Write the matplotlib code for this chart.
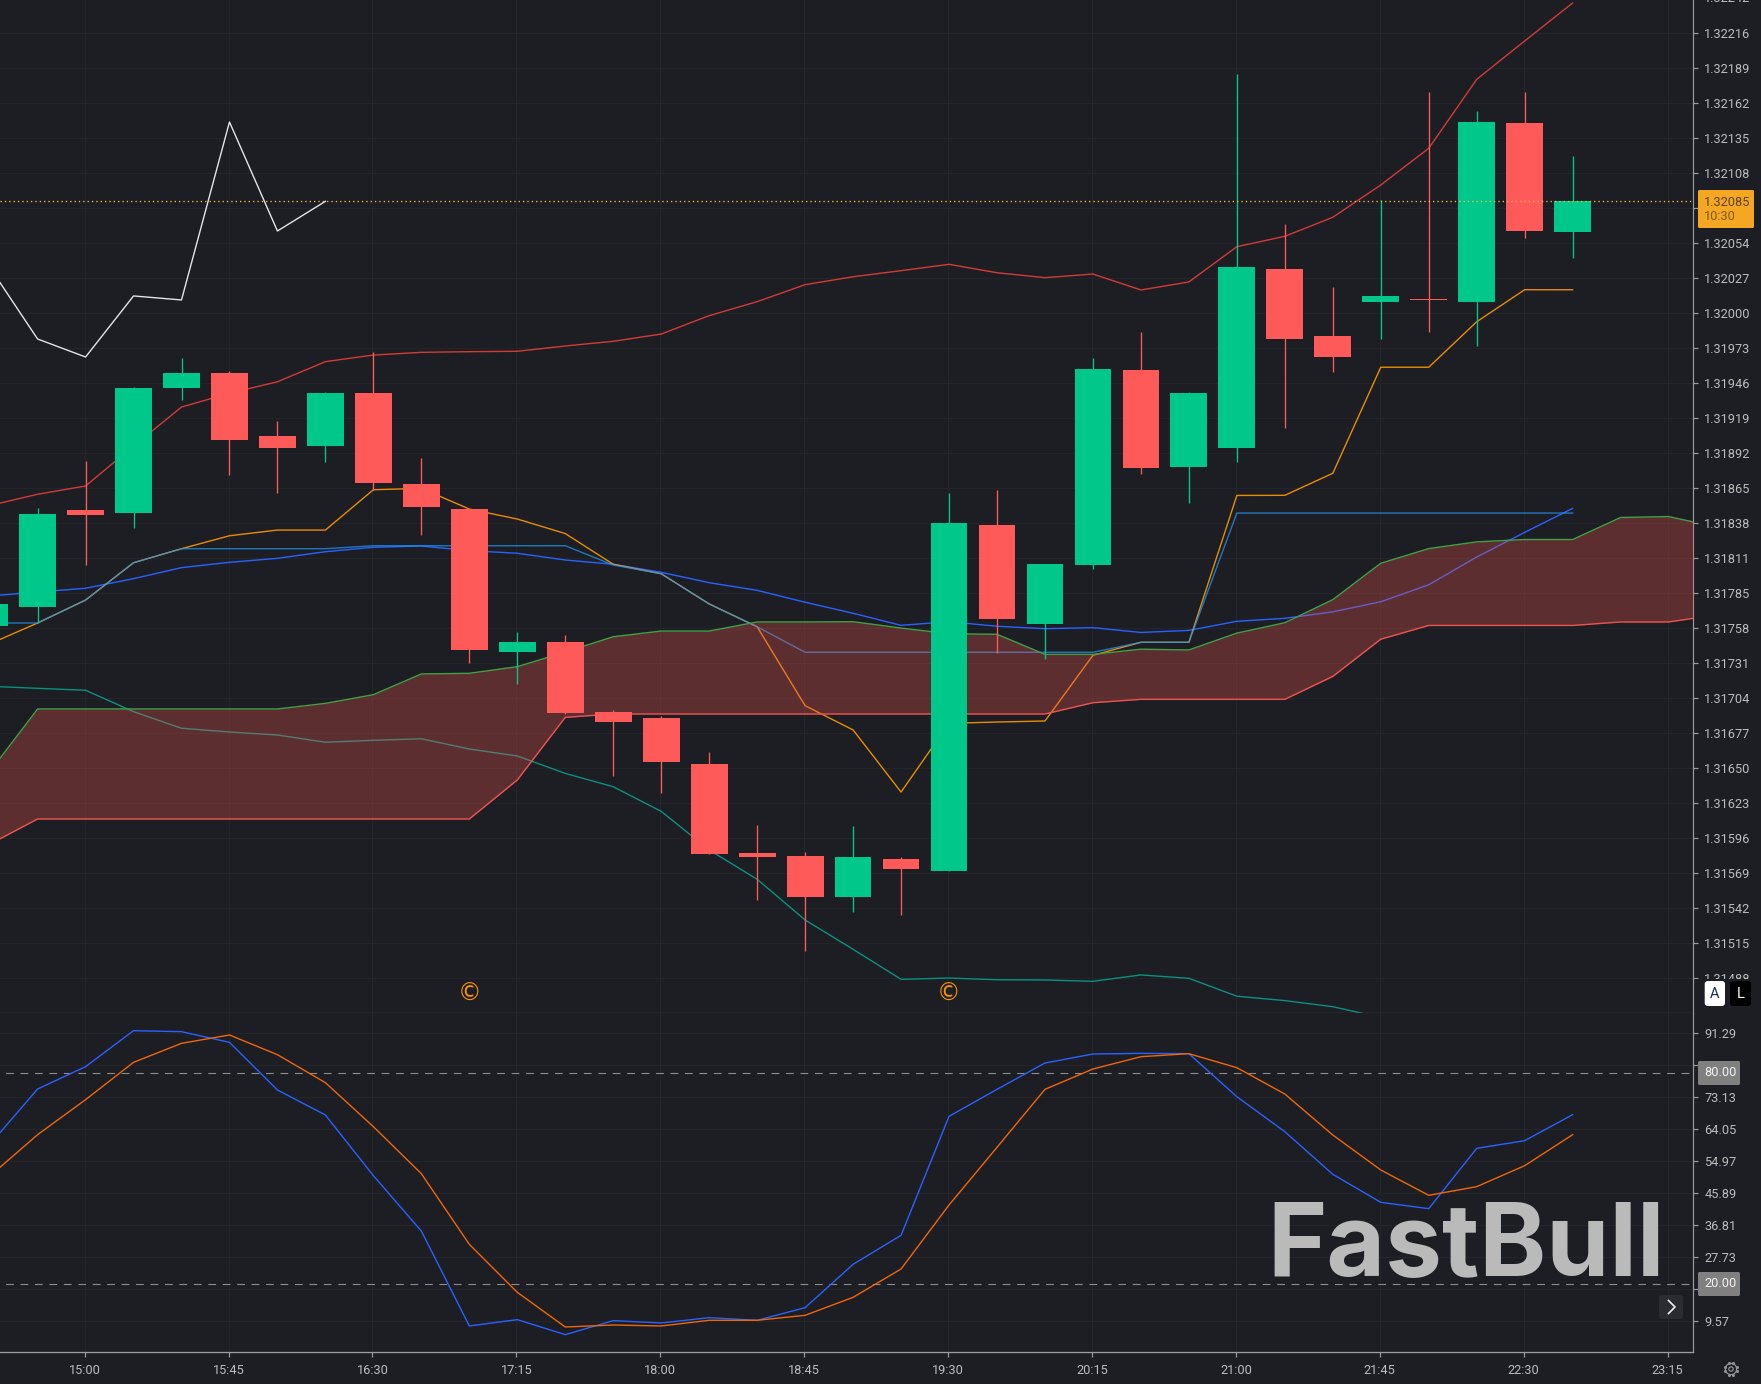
import matplotlib

matplotlib.use("Agg")

import matplotlib.pyplot as plt
import numpy as np
from matplotlib.patches import Circle, FancyBboxPatch, Rectangle

plt.rcParams["font.family"] = ["Roboto", "DejaVu Sans"]

BG = "#1c1e23"
GRID = "#232529"
AXIS = "#9c9c9c"
TEXT = "#bcbcbc"
UP = "#00c78a"
DOWN = "#ff5a5a"
WIDTH, HEIGHT = 1761, 1384

# bars are numbered from the 15:00 candle, two earlier ones sit to its left
FIRST_BAR = -2
opens = [1.317574, 1.317720, 1.318469, 1.318446, 1.319410, 1.319526, 1.319040, 1.318962, 1.319371, 1.318669, 1.318476,
         1.317373, 1.317450, 1.316910, 1.316864, 1.316509, 1.315823, 1.315800, 1.315483, 1.315776, 1.315684, 1.318353,
         1.317589, 1.318044, 1.319549, 1.318800, 1.318947, 1.320328, 1.319811, 1.320073, 1.320096, 1.320073, 1.321454,
         1.320613]
closes = [1.317744, 1.318438, 1.318430, 1.319410, 1.319526, 1.319009, 1.318947, 1.319371, 1.318677, 1.318492, 1.317389,
          1.317450, 1.316903, 1.316833, 1.316525, 1.315815, 1.315792, 1.315483, 1.315792, 1.315699, 1.318368, 1.317628,
          1.318052, 1.319556, 1.318793, 1.319371, 1.320343, 1.319788, 1.319649, 1.320120, 1.320089, 1.321462, 1.320621,
          1.32085]
highs = [1.317744, 1.318482, 1.318844, 1.319415, 1.319639, 1.319539, 1.319153, 1.319379, 1.319685, 1.318868, 1.318476,
         1.317525, 1.317502, 1.316926, 1.316880, 1.316600, 1.316036, 1.315828, 1.316029, 1.315789, 1.318598, 1.318621,
         1.318052, 1.319639, 1.319840, 1.319379, 1.321830, 1.320673, 1.320187, 1.320858, 1.321691, 1.321544, 1.321691,
         1.321200]
lows = [1.317574, 1.317599, 1.318044, 1.318330, 1.319317, 1.318739, 1.318600, 1.318839, 1.318623, 1.318276, 1.317288,
        1.317126, 1.316895, 1.316417, 1.316286, 1.315815, 1.315460, 1.315067, 1.315368, 1.315344, 1.315684, 1.317365,
        1.317319, 1.318014, 1.318746, 1.318520, 1.318839, 1.319101, 1.319533, 1.319788, 1.319842, 1.319734, 1.320567,
        1.320413]

boll_upper = [1.318503, 1.318590, 1.318654, 1.318962, 1.319263, 1.319369, 1.319458, 1.319613, 1.319664, 1.319685,
              1.319690, 1.319693, 1.319734, 1.319770, 1.319826, 1.319968, 1.320076, 1.320207, 1.320268, 1.320315,
              1.320364, 1.320299, 1.320261, 1.320289, 1.320166, 1.320228, 1.320500, 1.320580, 1.320727, 1.320976,
              1.321259, 1.321791, 1.322087, 1.322380]
boll_mid = [1.317805, 1.317836, 1.317865, 1.317939, 1.318024, 1.318065, 1.318096, 1.318147, 1.318181, 1.318191,
            1.318155, 1.318135, 1.318083, 1.318050, 1.317988, 1.317908, 1.317849, 1.317757, 1.317672, 1.317579,
            1.317607, 1.317572, 1.317553, 1.317561, 1.317524, 1.317540, 1.317610, 1.317633, 1.317683, 1.317761,
            1.317892, 1.318106, 1.318296, 1.318481]
boll_lower = [1.317109, 1.317093, 1.317078, 1.316913, 1.316785, 1.316756, 1.316733, 1.316677, 1.316692, 1.316704,
              1.316625, 1.316571, 1.316437, 1.316334, 1.316144, 1.315846, 1.315620, 1.315306, 1.315080, 1.314848,
              1.314858, 1.314845, 1.314843, 1.314833, 1.314882, 1.314856, 1.314718, 1.314684, 1.314637, 1.314554]
tenkan = [1.317435, 1.317597, 1.317774, 1.318062, 1.318170, 1.318270, 1.318314, 1.318314, 1.318625, 1.318636,
          1.318476, 1.318399, 1.318287, 1.318050, 1.317977, 1.317744, 1.317568, 1.316959, 1.316772, 1.316293,
          1.316823, 1.316833, 1.316841, 1.317348, 1.317448, 1.317448, 1.318581, 1.318582, 1.318752, 1.319570,
          1.319570, 1.319921, 1.320168, 1.320168]
kijun = [1.317597, 1.317597, 1.317774, 1.318062, 1.318170, 1.318170, 1.318170, 1.318170, 1.318193, 1.318193,
         1.318193, 1.318193, 1.318193, 1.318044, 1.317977, 1.317744, 1.317568, 1.317371, 1.317371, 1.317371,
         1.317371, 1.317371, 1.317371, 1.317371, 1.317448, 1.317448, 1.318445, 1.318445, 1.318445, 1.318445,
         1.318445, 1.318445, 1.318445, 1.318445]
chikou = [1.320343, 1.319788, 1.319649, 1.320120, 1.320089, 1.321462, 1.320621, 1.32085]
# the leading spans run three bars further than the candles
span_a = [1.316448, 1.316934, 1.316934, 1.316934, 1.316934, 1.316934, 1.316934, 1.316977, 1.317044, 1.317204,
          1.317209, 1.317260, 1.317373, 1.317491, 1.317535, 1.317535, 1.317605, 1.317605, 1.317607, 1.317558,
          1.317514, 1.317510, 1.317355, 1.317355, 1.317395, 1.317389, 1.317519, 1.317599, 1.317777, 1.318058,
          1.318171, 1.318223, 1.318241, 1.318241, 1.318411, 1.318418, 1.318338]
span_b = [1.315890, 1.316085, 1.316085, 1.316085, 1.316085, 1.316085, 1.316085, 1.316085, 1.316085, 1.316085,
          1.316085, 1.316386, 1.316869, 1.316895, 1.316895, 1.316895, 1.316895, 1.316895, 1.316895, 1.316895,
          1.316895, 1.316895, 1.316895, 1.316982, 1.317008, 1.317008, 1.317008, 1.317008, 1.317185, 1.317472,
          1.317578, 1.317578, 1.317578, 1.317578, 1.317605, 1.317605, 1.317659]

stoch_k = [59.6, 75.4, 81.74, 91.95, 91.67, 88.64, 75.12, 68.02, 50.81, 35.10, 8.15, 9.95, 5.69, 9.66, 9.00, 10.51,
           9.76, 13.35, 25.65, 33.88, 67.64, 75.31, 82.78, 85.33, 85.52, 85.43, 73.22, 63.29, 51.19, 43.24, 41.44,
           58.56, 60.74, 68.12]
stoch_d = [50.62, 62.44, 72.37, 82.97, 88.36, 90.73, 85.14, 77.20, 64.71, 51.37, 31.32, 17.70, 7.86, 8.43, 8.15, 9.76,
           9.76, 11.18, 16.28, 24.32, 42.48, 58.85, 75.31, 81.07, 84.57, 85.43, 81.45, 73.98, 62.35, 52.42, 45.23,
           47.69, 53.64, 62.44]

last_price = 1.32085
countdown = "10:30"
event_bars = [8, 18]
stoch_levels = [80.0, 20.0]

top_price_label = "1.32242"
price_labels = ["1.32216", "1.32189", "1.32162", "1.32135", "1.32108", "1.32081", "1.32054", "1.32027",
                "1.32000", "1.31973", "1.31946", "1.31919", "1.31892", "1.31865", "1.31838", "1.31811", "1.31785",
                "1.31758", "1.31731", "1.31704", "1.31677", "1.31650", "1.31623", "1.31596", "1.31569", "1.31542",
                "1.31515", "1.31488"]
stoch_ticks = [91.29, 82.21, 73.13, 64.05, 54.97, 45.89, 36.81, 27.73, 18.65, 9.57]
time_labels = ["15:00", "15:45", "16:30", "17:15", "18:00", "18:45", "19:30", "20:15", "21:00", "21:45", "22:30",
               "23:15"]


def bars(values):
    return np.arange(FIRST_BAR, FIRST_BAR + len(values))


def style_axes(ax):
    ax.set_facecolor(BG)
    ax.yaxis.tick_right()
    ax.set_axisbelow(True)
    ax.grid(True, color=GRID, linewidth=0.85)
    ax.spines["left"].set_visible(False)
    ax.spines["top"].set_visible(False)
    ax.spines["right"].set_color(AXIS)
    ax.spines["right"].set_linewidth(0.85)
    ax.tick_params(axis="y", colors=AXIS, labelcolor=TEXT, labelsize=9.2, length=3.6, width=0.85, pad=4.2)
    ax.tick_params(axis="x", colors=AXIS, labelcolor=TEXT, labelsize=9.2, length=3.6, width=0.85, pad=5)


def draw_candles(ax):
    x = bars(closes)
    o, c = np.array(opens), np.array(closes)
    colors = [UP if up else DOWN for up in c >= o]
    ax.vlines(x, lows, highs, colors=colors, linewidth=0.95, zorder=5)
    ax.bar(x, np.abs(c - o), bottom=np.minimum(o, c), width=0.767, color=colors, linewidth=0, zorder=6)


def draw_price_panel(ax):
    style_axes(ax)
    # axis ticks are evenly spaced, their labels are rounded
    ax.set_yticks(1.322145 - 0.00027 * np.arange(len(price_labels)), price_labels)
    ax.set_xticks(np.arange(0, 36, 3) - 0.02)
    ax.tick_params(axis="x", bottom=False, labelbottom=False)
    ax.spines["bottom"].set_color("#4a4b4f")
    ax.spines["bottom"].set_linewidth(0.95)

    ax.plot(bars(boll_upper), boll_upper, color="#d23c37", lw=1.0, zorder=2)
    ax.plot(bars(boll_lower), boll_lower, color="#0b9082", lw=1.0, zorder=2)
    ax.plot(bars(boll_mid), boll_mid, color="#2962ff", lw=1.0, zorder=2)
    ax.plot(bars(tenkan), tenkan, color="#ff9800", lw=1.0, alpha=0.9, zorder=2)
    ax.plot(bars(kijun), kijun, color="#2196f3", lw=1.0, alpha=0.75, zorder=2)
    ax.plot(bars(chikou), chikou, color="#e4e4e4", lw=1.0, zorder=2)

    ax.fill_between(bars(span_a), span_a, span_b, color="#ef5350", alpha=0.31, linewidth=0, zorder=3)
    ax.plot(bars(span_a), span_a, color="#43a047", lw=1.0, zorder=4)
    ax.plot(bars(span_b), span_b, color="#ef5350", lw=1.0, zorder=4)

    draw_candles(ax)
    ax.axhline(last_price, color="#ffb84d", lw=0.95, linestyle=(0, (1.0, 2.3)), zorder=7)

    for bar in event_bars:
        ax.text(bar, 1.31474, "\u00a9", color="#f79009", fontsize=17, family="DejaVu Sans",
                ha="center", va="center", zorder=8)

    # limits go last, setting ticks can widen them
    ax.set_xlim(-1.7836, 33.515)
    ax.set_ylim(1.3145884, 1.3224030)


def draw_stoch_panel(ax):
    style_axes(ax)
    ax.set_yticks(stoch_ticks, [f"{v:.2f}" for v in stoch_ticks])
    ax.set_xticks(np.arange(0, 36, 3) - 0.02, time_labels)
    ax.spines["bottom"].set_color(AXIS)
    ax.spines["bottom"].set_linewidth(0.95)

    for level in stoch_levels:
        ax.axhline(level, color="#8c8c8c", lw=0.8, linestyle=(8, (7, 6)), zorder=2)
    ax.plot(bars(stoch_k), stoch_k, color="#2962ff", lw=1.0, zorder=3)
    ax.plot(bars(stoch_d), stoch_d, color="#f0660a", lw=1.0, zorder=4)

    ax.set_xlim(-1.7836, 33.515)
    ax.set_ylim(0.68, 96.97)


def rounded_box(ax, x0, y0, x1, y1, color, radius=2.5, zorder=3):
    ax.add_patch(FancyBboxPatch((x0 + radius, y0 + radius), x1 - x0 - 2 * radius, y1 - y0 - 2 * radius,
                                boxstyle=f"round,pad={radius},rounding_size={radius}",
                                facecolor=color, edgecolor="none", zorder=zorder))


def draw_gear(ax, cx, cy):
    teeth = np.linspace(0, 2 * np.pi, 8, endpoint=False) + np.pi / 8
    ax.add_patch(Circle((cx, cy), 5.6, fill=False, edgecolor="#8f9196", linewidth=0.9))
    ax.add_patch(Circle((cx, cy), 2.2, fill=False, edgecolor="#8f9196", linewidth=0.9))
    ax.scatter(cx + 6.2 * np.cos(teeth), cy + 6.2 * np.sin(teeth), s=5, color="#8f9196", linewidth=0)


def draw_overlay(fig):
    # everything here is placed in pixels on top of both panels
    ax = fig.add_axes([0, 0, 1, 1], zorder=10)
    ax.set_xlim(0, WIDTH)
    ax.set_ylim(HEIGHT, 0)
    ax.axis("off")
    ax.patch.set_alpha(0)

    # the topmost axis label is cut by the window edge
    ax.text(1704.3, -1, top_price_label, color=TEXT, fontsize=9.2, va="center", zorder=4, clip_on=False)

    # last price tag
    rounded_box(ax, 1698, 190, 1754, 228, "#f5a623", radius=1.5)
    ax.text(1704.3, 202.5, f"{last_price:.5f}", color="#5c4312", fontsize=9.2, va="center", zorder=4)
    ax.text(1704.3, 216, countdown, color="#7d5c18", fontsize=9.2, va="center", zorder=4)

    # stochastic level tags
    for level, top in zip(stoch_levels, [1061, 1272]):
        rounded_box(ax, 1698, top, 1740, top + 24, "#808080", radius=1.5)
        ax.text(1704, top + 11.5, f"{level:.2f}", color="#f2f2f2", fontsize=9.2, va="center", zorder=4)

    # auto / log scale buttons, the lowest axis label runs under them
    ax.add_patch(Rectangle((1695, 978.5), 66, 33.5, facecolor=BG, edgecolor="none", zorder=2))
    rounded_box(ax, 1704.7, 981, 1725, 1006, "#ffffff", radius=3)
    ax.text(1714.9, 994, "A", color="#1f2a55", fontsize=10.5, ha="center", va="center", zorder=4)
    rounded_box(ax, 1730, 981, 1751, 1006, "#000000", radius=3)
    ax.text(1740.5, 994, "L", color="#ffffff", fontsize=10.5, ha="center", va="center", zorder=4)

    # scroll button
    rounded_box(ax, 1659, 1295, 1683, 1319, "#2a2c31", radius=3)
    ax.plot([1668.5, 1675, 1668.5], [1300.5, 1307, 1313.5], color="#f0f0f0", lw=1.2, zorder=4)

    draw_gear(ax, 1731, 1369)

    ax.text(1466.5, 1275.5, "FastBull", color="#bababa", fontsize=73, fontweight="bold", family="Inter",
            ha="center", va="baseline", zorder=4)


def main():
    fig = plt.figure(figsize=(WIDTH / 100, HEIGHT / 100), dpi=100, facecolor=BG)
    right = 1693.3 / WIDTH
    ax_price = fig.add_axes([0, 1 - 1013 / HEIGHT, right, 1013 / HEIGHT])
    ax_stoch = fig.add_axes([0, 1 - 1352.3 / HEIGHT, right, (1352.3 - 1013) / HEIGHT])
    draw_price_panel(ax_price)
    draw_stoch_panel(ax_stoch)
    draw_overlay(fig)
    fig.savefig("out.png", dpi=100, facecolor=BG)


if __name__ == "__main__":
    main()
